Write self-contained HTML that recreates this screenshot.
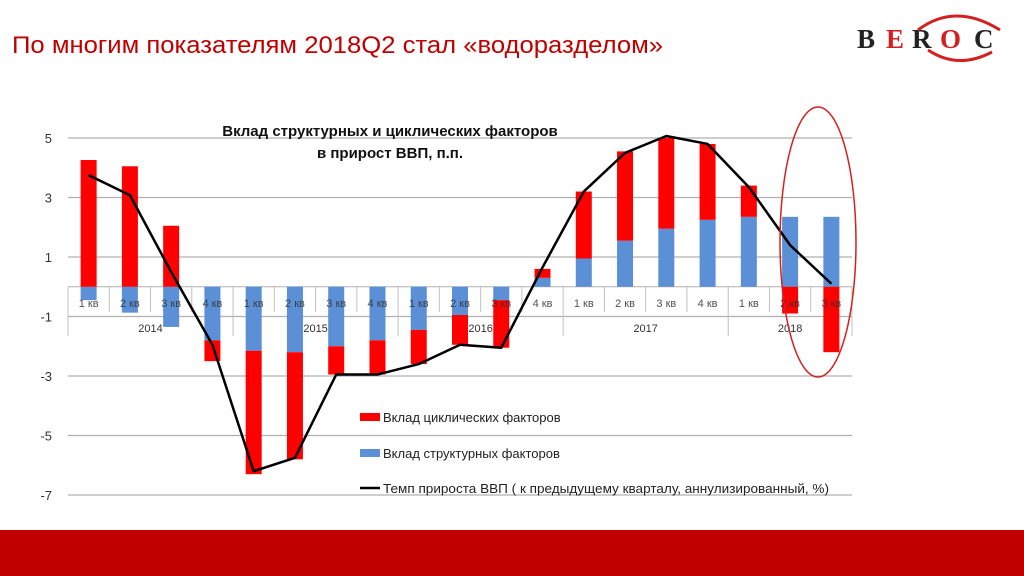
<!DOCTYPE html>
<html><head><meta charset="utf-8"><style>
body{margin:0;width:1024px;height:576px;overflow:hidden;background:#fff;font-family:"Liberation Sans",sans-serif}
</style></head><body>
<svg id="s" width="1024" height="576" xmlns="http://www.w3.org/2000/svg" style="position:absolute;left:0;top:0">
<rect x="0" y="530" width="1024" height="46" fill="#c00000"/>
<text x="12" y="53" font-family="Liberation Sans, sans-serif" font-size="24" fill="#c00000" textLength="651" lengthAdjust="spacingAndGlyphs">По многим показателям 2018Q2 стал «водоразделом»</text>
<g font-family="Liberation Serif, serif" font-weight="bold" font-size="27">
<text x="857" y="48" fill="#222">B</text>
<text x="886" y="48" fill="#d42020">E</text>
<text x="912" y="48" fill="#222">R</text>
<text x="940" y="48" fill="#d42020">O</text>
<text x="974" y="48" fill="#222">C</text>
</g>
<path d="M918 30 Q955 2 1000 30" fill="none" stroke="#d42020" stroke-width="3"/>
<path d="M928 50 Q958 70 992 52" fill="none" stroke="#d42020" stroke-width="3"/>
<g id="g"></g>
</svg>
<script>
var g=document.getElementById('g'),h='';
var X0=68,X1=852,W=(X1-X0)/19;
function Y(v){return 286.75-v*29.75}
[5,3,1,-1,-3,-5,-7].forEach(function(v){h+='<line x1="'+X0+'" x2="'+X1+'" y1="'+Y(v)+'" y2="'+Y(v)+'" stroke="#b0b0b0" stroke-width="1.2"/>';
h+='<text x="52" y="'+(Y(v)+5)+'" font-size="13" text-anchor="end" font-family="Liberation Sans,sans-serif" fill="#333">'+v+'</text>';});
h+='<text x="390" y="136" text-anchor="middle" font-weight="bold" font-size="15" font-family="Liberation Sans,sans-serif" fill="#111">Вклад структурных и циклических факторов</text>';
h+='<text x="390" y="158" text-anchor="middle" font-weight="bold" font-size="15" font-family="Liberation Sans,sans-serif" fill="#111">в прирост ВВП, п.п.</text>';
h+='<line x1="'+X0+'" x2="'+X1+'" y1="286.75" y2="286.75" stroke="#b0b0b0"/>';
for(var i=0;i<=19;i++){var x=X0+i*W,yr=(i%4==0)||i==19;h+='<line x1="'+x+'" x2="'+x+'" y1="287" y2="'+(yr?336:312)+'" stroke="#c0c0c0"/>';}
var d=[[-0.45,4.26,3.75],[-0.87,4.05,3.08],[-1.35,2.05,0.5],[-1.8,-2.5,-1.95],[-2.15,-6.3,-6.2],[-2.2,-5.8,-5.75],[-2.0,-2.95,-2.95],[-1.8,-2.95,-2.95],[-1.45,-2.6,-2.6],[-0.95,-1.95,-1.95],[-0.45,-2.05,-2.05],[0.3,0.6,0.65],[0.95,3.2,3.2],[1.55,4.55,4.5],[1.95,5.1,5.1],[2.25,4.8,4.8],[2.35,3.4,3.35],[2.35,-0.9,1.4],[2.35,-2.2,0.1]];
var pts=[];
d.forEach(function(r,i){var cx=X0+(i+0.5)*W,bw=16,b=r[0],t=r[1];
function bar(a,c,col){var y1=Math.min(Y(a),Y(c)),y2=Math.max(Y(a),Y(c));y1=Math.max(y1,138);h+='<rect x="'+(cx-bw/2)+'" y="'+y1+'" width="'+bw+'" height="'+(y2-y1)+'" fill="'+col+'"/>';}
bar(0,b,'#5b8fd6');
if((b<0&&t<0)||(b>0&&t>0)) bar(b,t,'#ff0000'); else bar(0,t,'#ff0000');
pts.push(cx+','+Math.max(Y(r[2]),136));});
var q=['1 кв','2 кв','3 кв','4 кв'];
for(var i=0;i<19;i++){h+='<text x="'+(X0+(i+0.5)*W)+'" y="307" font-size="11" text-anchor="middle" font-family="Liberation Sans,sans-serif" fill="#333" fill-opacity="0.85">'+q[i%4]+'</text>';}
[['2014',0,4],['2015',4,8],['2016',8,12],['2017',12,16],['2018',16,19]].forEach(function(a){h+='<text x="'+(X0+(a[1]+a[2])/2*W)+'" y="332" font-size="11" text-anchor="middle" font-family="Liberation Sans,sans-serif" fill="#333">'+a[0]+'</text>';});
h+='<polyline points="'+pts.join(' ')+'" fill="none" stroke="#000" stroke-width="2.5" stroke-linejoin="round"/>';
h+='<rect x="360" y="413" width="20" height="8" fill="#ff0000"/><text x="383" y="422" font-size="13" font-family="Liberation Sans,sans-serif" fill="#222">Вклад циклических факторов</text>';
h+='<rect x="360" y="449" width="20" height="8" fill="#5b8fd6"/><text x="383" y="458" font-size="13" font-family="Liberation Sans,sans-serif" fill="#222">Вклад структурных факторов</text>';
h+='<line x1="360" x2="380" y1="488" y2="488" stroke="#000" stroke-width="2.5"/><text x="383" y="493" font-size="13" font-family="Liberation Sans,sans-serif" fill="#222" textLength="446" lengthAdjust="spacingAndGlyphs">Темп прироста ВВП ( к предыдущему кварталу, аннулизированный, %)</text>';
h+='<ellipse cx="818" cy="242" rx="38" ry="135" fill="none" stroke="#d42020" stroke-width="1.5"/>';
g.innerHTML=h;
</script>
</body></html>
